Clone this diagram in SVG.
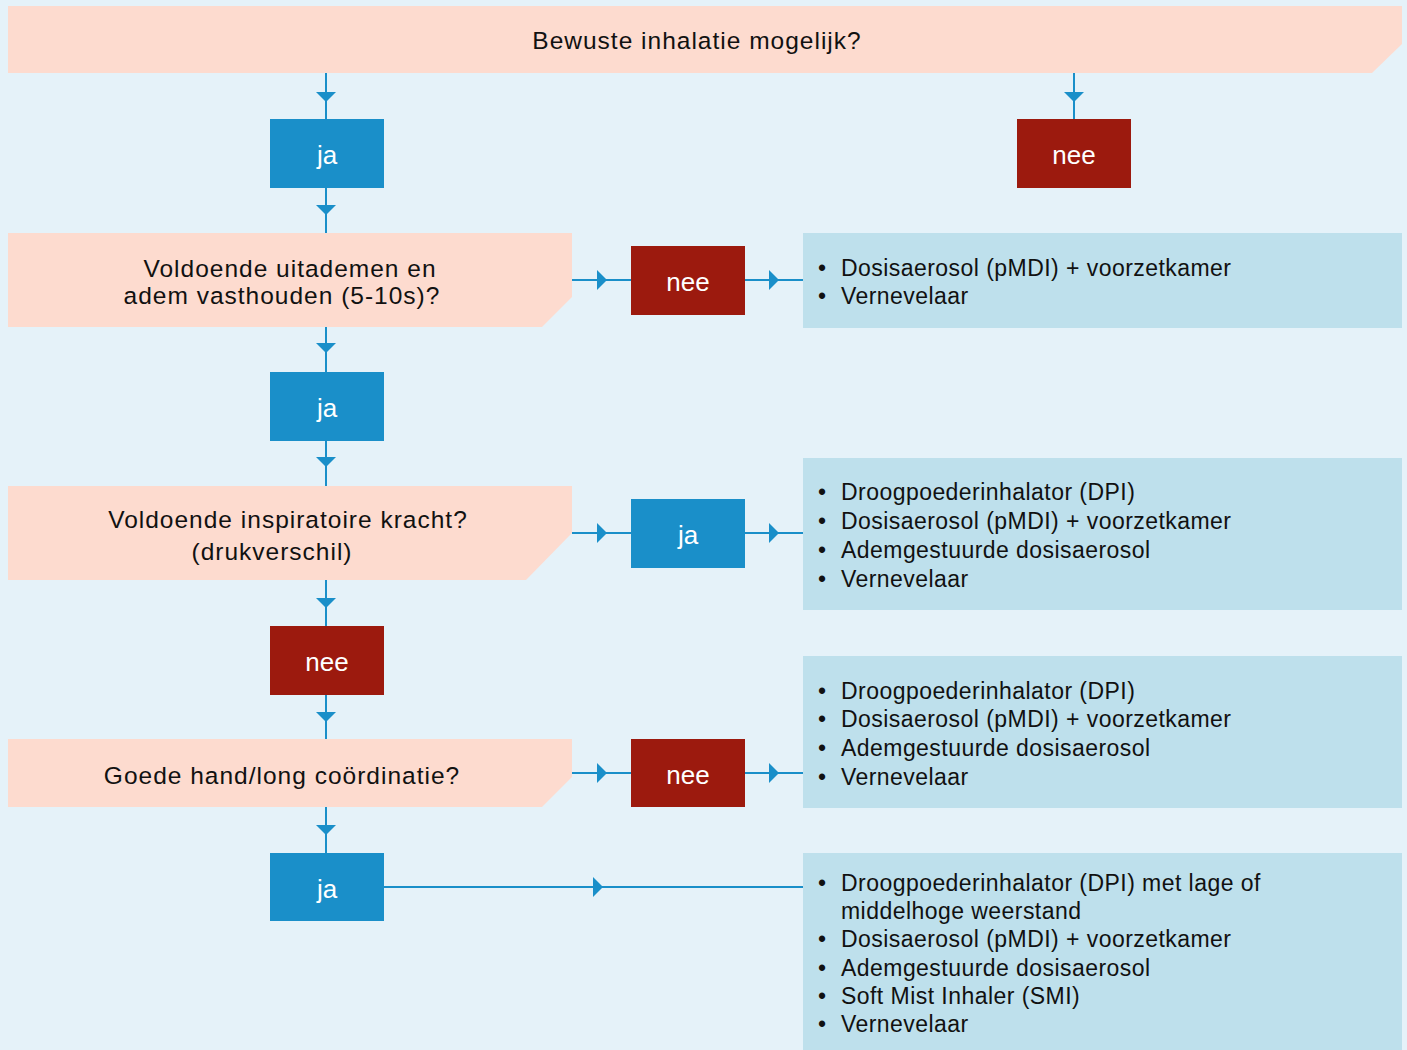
<svg xmlns="http://www.w3.org/2000/svg" width="1407" height="1050" viewBox="0 0 1407 1050">
<defs>
<style>
.bg{fill:#E5F2F9}
.q{fill:#FDDBCF}
.opt{fill:#BEE0EC}
.yes{fill:#1A8FC9}
.no{fill:#9C1A0E}
.qt{font-family:"Liberation Sans",Arial,sans-serif;font-size:24.5px;letter-spacing:1px;fill:#111;text-anchor:middle}
.bt{font-family:"Liberation Sans",Arial,sans-serif;font-size:26px;fill:#fff;text-anchor:middle}
.lt{font-family:"Liberation Sans",Arial,sans-serif;font-size:23px;letter-spacing:0.45px;fill:#111}
.bul{font-family:"Liberation Sans",Arial,sans-serif;font-size:23px;fill:#111;text-anchor:middle}
.ln{stroke:#1A8FC9;stroke-width:2;fill:none}
.ah{fill:#1A8FC9}
</style>
</defs>
<rect class="bg" x="0" y="0" width="1407" height="1050"/>

<g id="connectors">
<path class="ln" d="M326 73V119M326 188V233M326 327V372M326 441V486M326 580V626M326 695V739M326 807V853M1074 73V119"/>
<path class="ln" d="M572 280H631M745 280H803M572 533H631M745 533H803M572 773H631M745 773H803M384 887H803"/>
<g class="ah">
<polygon points="316,92 336,92 326,102"/>
<polygon points="316,205 336,205 326,215"/>
<polygon points="316,343 336,343 326,353"/>
<polygon points="316,457 336,457 326,467"/>
<polygon points="316,598 336,598 326,608"/>
<polygon points="316,712 336,712 326,722"/>
<polygon points="316,825 336,825 326,835"/>
<polygon points="1064,92 1084,92 1074,102"/>
<polygon points="597,270 597,290 607,280"/>
<polygon points="769,270 769,290 779,280"/>
<polygon points="597,523 597,543 607,533"/>
<polygon points="769,523 769,543 779,533"/>
<polygon points="597,763 597,783 607,773"/>
<polygon points="769,763 769,783 779,773"/>
<polygon points="593,877 593,897 603,887"/>
</g>
</g>

<g id="q0">
<polygon class="q" points="8,6 1402,6 1402,44 1372,73 8,73"/>
<text class="qt" x="697" y="49">Bewuste inhalatie mogelijk?</text>
</g>
<g id="ja0"><rect class="yes" x="270" y="119" width="114" height="69"/><text class="bt" x="327" y="164">ja</text></g>
<g id="nee0"><rect class="no" x="1017" y="119" width="114" height="69"/><text class="bt" x="1074" y="164">nee</text></g>

<g id="q1">
<polygon class="q" points="8,233 572,233 572,297 542,327 8,327"/>
<text class="qt" x="290" y="277">Voldoende uitademen en</text>
<text class="qt" x="282" y="304">adem vasthouden (5-10s)?</text>
</g>
<g id="nee1"><rect class="no" x="631" y="246" width="114" height="69"/><text class="bt" x="688" y="291">nee</text></g>
<g id="opt1">
<rect class="opt" x="803" y="233" width="599" height="95"/>
<text class="bul" x="822" y="275.5">•</text><text class="lt" x="841" y="275.5">Dosisaerosol (pMDI) + voorzetkamer</text>
<text class="bul" x="822" y="303.5">•</text><text class="lt" x="841" y="303.5">Vernevelaar</text>
</g>
<g id="ja1"><rect class="yes" x="270" y="372" width="114" height="69"/><text class="bt" x="327" y="417">ja</text></g>

<g id="q2">
<polygon class="q" points="8,486 572,486 572,533 526,580 8,580"/>
<text class="qt" x="288" y="528">Voldoende inspiratoire kracht?</text>
<text class="qt" x="272" y="560">(drukverschil)</text>
</g>
<g id="ja2"><rect class="yes" x="631" y="499" width="114" height="69"/><text class="bt" x="688" y="544">ja</text></g>
<g id="opt2">
<rect class="opt" x="803" y="458" width="599" height="152"/>
<text class="bul" x="822" y="499.5">•</text><text class="lt" x="841" y="499.5">Droogpoederinhalator (DPI)</text>
<text class="bul" x="822" y="528.5">•</text><text class="lt" x="841" y="528.5">Dosisaerosol (pMDI) + voorzetkamer</text>
<text class="bul" x="822" y="557.5">•</text><text class="lt" x="841" y="557.5">Ademgestuurde dosisaerosol</text>
<text class="bul" x="822" y="586.5">•</text><text class="lt" x="841" y="586.5">Vernevelaar</text>
</g>
<g id="nee2"><rect class="no" x="270" y="626" width="114" height="69"/><text class="bt" x="327" y="671">nee</text></g>

<g id="q3">
<polygon class="q" points="8,739 572,739 572,777 542,807 8,807"/>
<text class="qt" x="282" y="784">Goede hand/long coördinatie?</text>
</g>
<g id="nee3"><rect class="no" x="631" y="739" width="114" height="68"/><text class="bt" x="688" y="784">nee</text></g>
<g id="opt3">
<rect class="opt" x="803" y="656" width="599" height="152"/>
<text class="bul" x="822" y="698.5">•</text><text class="lt" x="841" y="698.5">Droogpoederinhalator (DPI)</text>
<text class="bul" x="822" y="726.5">•</text><text class="lt" x="841" y="726.5">Dosisaerosol (pMDI) + voorzetkamer</text>
<text class="bul" x="822" y="755.5">•</text><text class="lt" x="841" y="755.5">Ademgestuurde dosisaerosol</text>
<text class="bul" x="822" y="784.5">•</text><text class="lt" x="841" y="784.5">Vernevelaar</text>
</g>
<g id="ja3"><rect class="yes" x="270" y="853" width="114" height="68"/><text class="bt" x="327" y="898">ja</text></g>
<g id="opt4">
<rect class="opt" x="803" y="853" width="599" height="197"/>
<text class="bul" x="822" y="891">•</text><text class="lt" x="841" y="891">Droogpoederinhalator (DPI) met lage of</text>
<text class="lt" x="841" y="919">middelhoge weerstand</text>
<text class="bul" x="822" y="947">•</text><text class="lt" x="841" y="947">Dosisaerosol (pMDI) + voorzetkamer</text>
<text class="bul" x="822" y="975.5">•</text><text class="lt" x="841" y="975.5">Ademgestuurde dosisaerosol</text>
<text class="bul" x="822" y="1004">•</text><text class="lt" x="841" y="1004">Soft Mist Inhaler (SMI)</text>
<text class="bul" x="822" y="1032">•</text><text class="lt" x="841" y="1032">Vernevelaar</text>
</g>
</svg>
